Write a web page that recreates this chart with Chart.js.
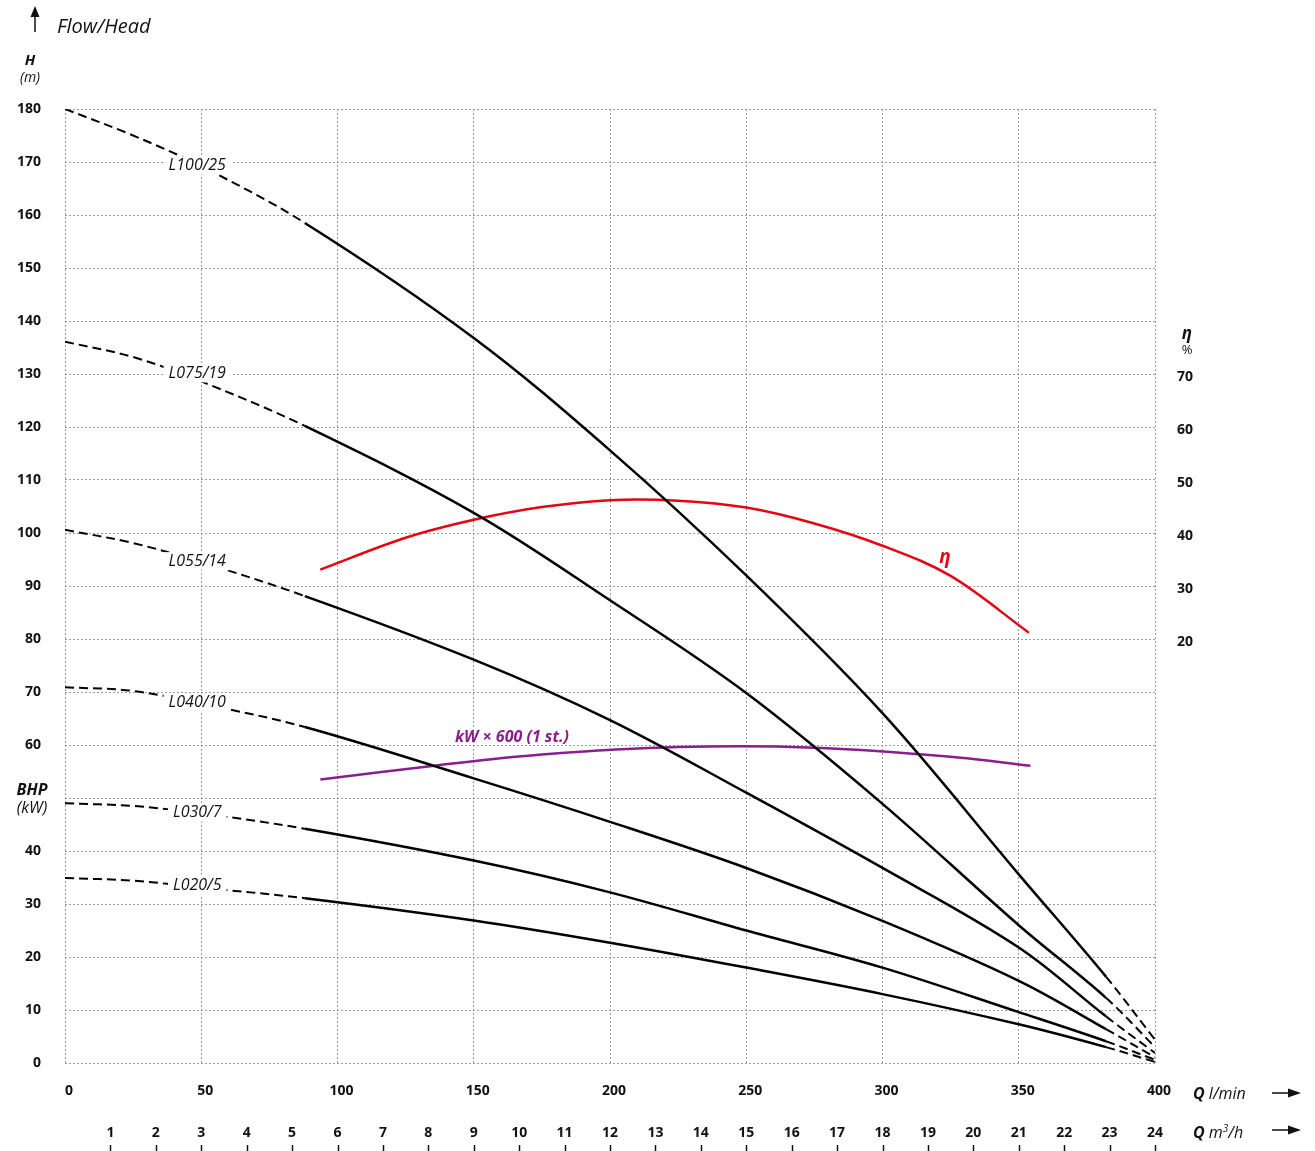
<!DOCTYPE html>
<html>
<head>
<meta charset="utf-8">
<script src="https://cdn.jsdelivr.net/npm/chart.js@4.4.0/dist/chart.umd.min.js"></script>
<style>
  html, body { margin: 0; padding: 0; background: #fff; }
  #wrap { position: relative; width: 1315px; height: 1151px; overflow: hidden; font-family: "Open Sans", sans-serif; color: #111; }
  #myChart { position: absolute; left: 0; top: 0; }
  .t { position: absolute; white-space: nowrap; line-height: 1; }
  .c { text-align: center; }
</style>
</head>
<body>
<div id="wrap">
  <canvas id="myChart" width="1315" height="1151"></canvas>
  <div class="t" style="left:57px;top:16px;font-size:20px;font-style:italic">Flow/Head</div>
  <div class="t c" style="left:0;width:60px;top:52px;font-size:15px;font-weight:bold;font-style:italic">H</div>
  <div class="t c" style="left:0;width:60px;top:70px;font-size:14px;font-style:italic">(m)</div>
  <div class="t c" style="left:0;width:64px;top:781px;font-size:16px;font-weight:bold;font-style:italic">BHP</div>
  <div class="t c" style="left:0;width:64px;top:799px;font-size:16px;font-style:italic">(kW)</div>
  <div class="t c" style="left:1167px;width:40px;top:324px;font-size:17px;font-weight:bold;font-style:italic">η</div>
  <div class="t c" style="left:1167px;width:40px;top:343px;font-size:13px">%</div>
  <div class="t c" style="left:412px;width:200px;top:728px;font-size:16px;font-weight:bold;font-style:italic;color:#8a1e8c">kW × 600 (1 st.)</div>
  <div class="t c" style="left:915px;width:60px;top:547px;font-size:19px;font-weight:bold;font-style:italic;color:#e30613">η</div>
  <div class="t" style="left:1193px;top:1085px;font-size:16px"><b><i>Q</i></b> <i>l/min</i></div>
  <div class="t" style="left:1193px;top:1123px;font-size:16px"><b><i>Q</i></b> <i>m<sup style="font-size:10px">3</sup>/h</i></div>
</div>
<script>
// pump curves, H (m) against Q (l/min)
const flowQ = [0, 25, 50, 88, 150, 200, 250, 300, 350, 382, 400];
const headL100 = [180, 175.0, 169.2, 158.5, 136.8, 115.6, 92.0, 66.0, 35.6, 16.3, 4.4];
const headL075 = [136.1, 133.2, 128.6, 120.2, 103.8, 87.3, 69.8, 48.9, 26.0, 12.3, 3.0];
const headL055 = [100.6, 98.1, 94.5, 88.1, 76.1, 64.7, 51.0, 36.8, 21.8, 8.8, 1.9];
const headL040 = [70.9, 70.2, 67.8, 63.4, 53.7, 45.5, 36.8, 26.8, 15.5, 6.4, 1.1];
const headL030 = [49.0, 48.5, 47.1, 44.2, 38.2, 32.2, 25.0, 18.0, 9.6, 4.1, 0.6];
const headL020 = [34.9, 34.4, 33.1, 31.1, 26.9, 22.7, 18.0, 13.0, 7.3, 3.0, 0.2];
const pumpNames = ['L100/25', 'L075/19', 'L055/14', 'L040/10', 'L030/7', 'L020/5'];
const pumpHeads = [headL100, headL075, headL055, headL040, headL030, headL020];

// efficiency (%) on the right axis
const effQ = [93.7, 125, 150, 175, 200, 225, 250, 275, 300, 325, 353.7];
const effPct = [33.6, 39.6, 43.0, 45.4, 46.7, 46.6, 45.3, 42.3, 38.1, 32.4, 21.7];

// power kW x 600 (1 stage), read on the left axis
const kwQ = [93.7, 137, 175, 225, 275, 325, 354.3];
const kwX600 = [53.5, 56.2, 58.2, 59.6, 59.5, 57.8, 56.1];

const effTicks = [20, 30, 40, 50, 60, 70];
const hiddenHeadTick = 50;
const m3hTicks = [1, 2, 3, 4, 5, 6, 7, 8, 9, 10, 11, 12, 13, 14, 15, 16, 17, 18, 19, 20, 21, 22, 23, 24];

const dashFrom = 88, dashTo = 382, labelIdx = 2;
const labelLift = [0, 7, 0, 0, 0, 1];
const RED = '#e30613', PURPLE = '#8a1e8c', GRID = '#9c9c9c';

Chart.defaults.font.family = '"Open Sans", sans-serif';
Chart.defaults.color = '#111';

const ctx = document.getElementById('myChart').getContext('2d');

const datasets = pumpHeads.map((h, i) => ({
  label: pumpNames[i],
  tag: pumpNames[i],
  lift: labelLift[i],
  data: flowQ.map((q, j) => ({ x: q, y: h[j] })),
  borderColor: '#000',
  borderWidth: 2.5,
  pointRadius: 0,
  tension: 0.35,
  yAxisID: 'y',
  segment: {
    borderDash: c => (c.p1.parsed.x <= dashFrom || c.p0.parsed.x >= dashTo) ? [9, 5] : undefined,
    borderWidth: c => (c.p1.parsed.x <= dashFrom || c.p0.parsed.x >= dashTo) ? 2 : undefined
  }
}));

datasets.push({
  label: 'eta',
  data: effQ.map((q, j) => ({ x: q, y: effPct[j] })),
  borderColor: RED,
  borderWidth: 2.5,
  pointRadius: 0,
  tension: 0.35,
  yAxisID: 'y2'
});
datasets.push({
  label: 'kW x 600',
  data: kwQ.map((q, j) => ({ x: q, y: kwX600[j] })),
  borderColor: PURPLE,
  borderWidth: 2.5,
  pointRadius: 0,
  tension: 0.35,
  yAxisID: 'y'
});

const curveLabels = {
  id: 'curveLabels',
  afterDatasetsDraw(chart) {
    const c = chart.ctx;
    c.save();
    c.font = 'italic 16px "Open Sans"';
    c.textAlign = 'center';
    c.textBaseline = 'middle';
    chart.data.datasets.forEach((ds, i) => {
      if (!ds.tag) return;
      const pt = chart.getDatasetMeta(i).data[labelIdx];
      const x = pt.x - 4, y = pt.y - 1 - ds.lift;
      const w = c.measureText(ds.tag).width + 10;
      c.fillStyle = '#fff';
      c.fillRect(x - w / 2, y - 9, w, 18);
      c.fillStyle = '#111';
      c.fillText(ds.tag, x, y);
    });
    c.restore();
  },
  afterDraw(chart) {
    const c = chart.ctx;
    const x2 = chart.scales.x2;
    c.save();
    c.strokeStyle = '#111';
    c.lineWidth = 1.5;
    m3hTicks.forEach(v => {
      const px = Math.round(x2.getPixelForValue(v)) + 0.5;
      c.beginPath();
      c.moveTo(px, 1145);
      c.lineTo(px, 1151);
      c.stroke();
    });
    // arrows
    c.fillStyle = '#111';
    c.lineWidth = 1.5;
    c.beginPath(); c.moveTo(35, 14); c.lineTo(35, 32); c.stroke();
    c.beginPath(); c.moveTo(35, 6); c.lineTo(30.5, 17); c.lineTo(39.5, 17); c.closePath(); c.fill();
    [1093, 1130].forEach(y => {
      c.beginPath(); c.moveTo(1272, y); c.lineTo(1290, y); c.stroke();
      c.beginPath(); c.moveTo(1301, y); c.lineTo(1288, y - 4.5); c.lineTo(1288, y + 4.5); c.closePath(); c.fill();
    });
    c.restore();
  }
};

const tickFont = { size: 14, weight: 'bold' };

new Chart(ctx, {
  type: 'line',
  data: { datasets: datasets },
  options: {
    responsive: false,
    animation: false,
    devicePixelRatio: 1,
    layout: { padding: { top: 109, left: 0, right: 0, bottom: 0 } },
    plugins: { legend: { display: false }, tooltip: { enabled: false } },
    scales: {
      x: {
        type: 'linear', position: 'bottom', min: 0, max: 400, weight: 0,
        afterFit: s => { s.height = 44; },
        ticks: { stepSize: 50, padding: 20, labelOffset: 4, font: tickFont, autoSkip: false, maxRotation: 0 },
        grid: { color: GRID, lineWidth: 1, drawTicks: false },
        border: { display: false, dash: [2, 2] }
      },
      x2: {
        type: 'linear', position: 'bottom', min: 0, max: 24, weight: 1,
        afterFit: s => { s.height = 44; },
        afterBuildTicks: s => { s.ticks = m3hTicks.map(v => ({ value: v })); },
        ticks: { padding: 18, font: tickFont, autoSkip: false, maxRotation: 0 },
        grid: { display: false, drawTicks: false },
        border: { display: false }
      },
      y: {
        position: 'left', min: 0, max: 180,
        afterFit: s => { s.width = 65; },
        ticks: { stepSize: 10, padding: 24, font: tickFont, autoSkip: false,
          callback: v => v === hiddenHeadTick ? '' : v },
        grid: { color: GRID, lineWidth: 1, drawTicks: false },
        border: { display: false, dash: [2, 2] }
      },
      y2: {
        position: 'right', min: -59.5, max: 120.5,
        afterFit: s => { s.width = 160; },
        afterBuildTicks: s => { s.ticks = effTicks.map(v => ({ value: v })); },
        ticks: { padding: 22, font: tickFont, autoSkip: false },
        grid: { drawOnChartArea: false, drawTicks: false, display: false },
        border: { display: false }
      }
    }
  },
  plugins: [curveLabels]
});
</script>
</body>
</html>
